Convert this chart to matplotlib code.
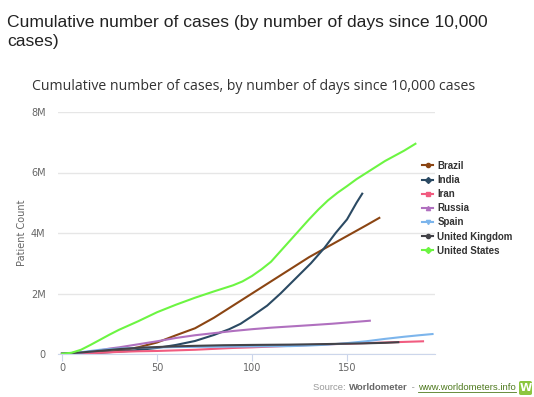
import matplotlib
matplotlib.use('Agg')
import matplotlib.pyplot as plt
from matplotlib.patches import FancyBboxPatch
from matplotlib.lines import Line2D

W, H = 534, 397

# data (days since 10,000 cases, millions of cases)
countries = ['Brazil', 'India', 'Iran', 'Russia', 'Spain', 'United Kingdom', 'United States']

brazil_days = [0, 10, 20, 30, 40, 50, 60, 70, 80, 90, 100, 110, 120, 130, 140, 150, 160, 167]
brazil_cases = [0.01, 0.03, 0.06, 0.1, 0.22, 0.38, 0.62, 0.85, 1.2, 1.6, 2.0, 2.4, 2.8, 3.2, 3.55, 3.9, 4.25, 4.5]

india_days = [0, 20, 35, 50, 60, 70, 80, 88, 94, 100, 108, 115, 123, 131, 138, 144, 150, 155, 158]
india_cases = [0.01, 0.04, 0.1, 0.2, 0.3, 0.43, 0.63, 0.82, 1.0, 1.25, 1.6, 2.0, 2.5, 3.0, 3.5, 4.0, 4.45, 5.0, 5.3]

iran_days = [0, 10, 20, 30, 40, 50, 60, 70, 80, 90, 100, 110, 120, 131, 140, 150, 160, 170, 180, 190]
iran_cases = [0.01, 0.02, 0.04, 0.07, 0.09, 0.1, 0.12, 0.14, 0.17, 0.2, 0.22, 0.245, 0.27, 0.3, 0.32, 0.34, 0.36, 0.38, 0.4, 0.42]

russia_days = [0, 10, 18, 25, 30, 40, 50, 60, 70, 80, 90, 100, 110, 120, 130, 142, 152, 162]
russia_cases = [0.01, 0.04, 0.1, 0.18, 0.22, 0.32, 0.42, 0.53, 0.62, 0.69, 0.76, 0.82, 0.87, 0.91, 0.95, 1.0, 1.05, 1.1]

spain_days = [0, 10, 15, 20, 30, 40, 60, 80, 100, 120, 130, 140, 150, 160, 170, 180, 188, 195]
spain_cases = [0.01, 0.06, 0.1, 0.14, 0.18, 0.2, 0.23, 0.24, 0.25, 0.26, 0.28, 0.31, 0.36, 0.42, 0.5, 0.57, 0.62, 0.66]

uk_days = [0, 10, 19, 30, 39, 50, 58, 70, 85, 100, 120, 140, 158, 170, 177]
uk_cases = [0.01, 0.05, 0.1, 0.16, 0.2, 0.23, 0.25, 0.27, 0.29, 0.3, 0.31, 0.33, 0.35, 0.37, 0.39]

us_days = [0, 5, 10, 15, 20, 25, 30, 40, 50, 60, 70, 80, 90, 95, 100, 105, 110, 115, 120,
           125, 130, 135, 140, 145, 150, 155, 160, 165, 170, 175, 180, 186]
us_cases = [0.01, 0.04, 0.14, 0.3, 0.47, 0.64, 0.8, 1.08, 1.38, 1.63, 1.86, 2.07, 2.27, 2.4, 2.58,
            2.8, 3.05, 3.4, 3.75, 4.1, 4.45, 4.78, 5.08, 5.33, 5.55, 5.78, 5.98, 6.18, 6.38, 6.55, 6.72, 6.95]

series = [
    (brazil_days, brazil_cases, '#8b4513', 'o'),
    (india_days, india_cases, '#2b4a63', 'D'),
    (iran_days, iran_cases, '#f15c80', 's'),
    (russia_days, russia_cases, '#b070bf', '^'),
    (spain_days, spain_cases, '#7cb5ec', 'v'),
    (uk_days, uk_cases, '#434348', 'o'),
    (us_days, us_cases, '#6cf542', 'D'),
]

fig = plt.figure(figsize=(W / 100, H / 100), dpi=100)

# page title (wraps to two lines) and chart subtitle
fig.text(7 / W, 1 - 27 / H, 'Cumulative number of cases (by number of days since 10,000',
         fontsize=12.6, family='Liberation Sans', color='#222222', va='baseline')
fig.text(7 / W, 1 - 46 / H, 'cases)', fontsize=12.6, family='Liberation Sans',
         color='#222222', va='baseline')
fig.text(32 / W, 1 - 90 / H, 'Cumulative number of cases, by number of days since 10,000 cases',
         fontsize=10.2, family='Open Sans', color='#333333', va='baseline')

ax = fig.add_axes([58 / W, 43 / H, (435 - 58) / W, (354 - 112) / H])
for (d, c, col, m), name in zip(series, countries):
    ax.plot(d, [v * 1e6 for v in c], color=col, lw=1.5, label=name)

ax.set_xlim(-2.1, 196.3)
ax.set_ylim(0, 8e6)
ax.set_xticks([0, 50, 100, 150])
ax.set_yticks([0, 2e6, 4e6, 6e6, 8e6])
ax.set_yticklabels(['0', '2M', '4M', '6M', '8M'])
ax.grid(axis='y', color='#e6e6e6', lw=1)
ax.set_axisbelow(True)
for s in ['top', 'right', 'left']:
    ax.spines[s].set_visible(False)
ax.spines['bottom'].set_color('#ccd6eb')
ax.tick_params(axis='y', length=0, pad=9, labelsize=7, labelcolor='#666666')
ax.tick_params(axis='x', length=5, color='#ccd6eb', pad=1.5, labelsize=7, labelcolor='#666666')
ax.set_ylabel('Patient Count', fontsize=7, color='#666666', va='center')
ax.yaxis.set_label_coords((22 - 58) / (435 - 58), 0.5)

handles = [Line2D([0], [0], color=col, lw=1.5, marker=m, markersize=3)
           for (d, c, col, m) in series]
leg = fig.legend(handles, countries, loc='upper left', bbox_to_anchor=(413 / W, 1 - 152 / H),
                 frameon=False, handlelength=1.2, handletextpad=0.4, labelspacing=0.43,
                 prop={'family': 'Liberation Sans', 'weight': 'bold', 'size': 7})
for t in leg.get_texts():
    t.set_color('#333333')

# source line, pieces chained one after another and ending at the logo
base_y = 1 - 390 / H
parts = [('Source: ', '#999999', 'normal'), ('Worldometer', '#666666', 'bold'),
         (' - ', '#999999', 'normal'), ('www.worldometers.info', '#4f7a1f', 'normal')]
texts = [fig.text(0, base_y, s, fontsize=6.8, color=c, weight=w,
                  family='Liberation Sans', va='baseline') for s, c, w in parts]
fig.canvas.draw()
r = fig.canvas.get_renderer()
widths = [t.get_window_extent(r).width for t in texts]
x = 516 - sum(widths) - 1.0 * (len(texts) - 1)
for t, wd in zip(texts, widths):
    t.set_position((x / W, base_y))
    x += wd + 1.0
link_x1 = 516
fig.add_artist(Line2D([(link_x1 - widths[-1]) / W, link_x1 / W], [1 - 392 / H, 1 - 392 / H],
                      color='#4f7a1f', lw=0.6))
fig.add_artist(FancyBboxPatch((519 / W, 1 - 395 / H), 13 / W, 14 / H,
                              boxstyle='round,pad=0,rounding_size=0.004',
                              facecolor='#8cc63f', edgecolor='none'))
fig.text(525.5 / W, 1 - 388 / H, 'W', fontsize=8, color='white', weight='bold',
         ha='center', va='center')

fig.savefig('out.png', dpi=100)
